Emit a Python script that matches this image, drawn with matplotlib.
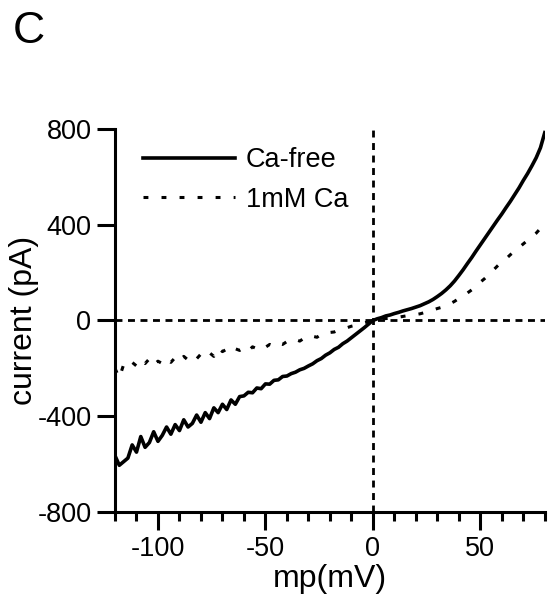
import numpy as np
import matplotlib
matplotlib.use('Agg')
import matplotlib.pyplot as plt

plt.rcParams['font.family'] = ['Liberation Sans', 'DejaVu Sans']
plt.rcParams['axes.unicode_minus'] = False

# membrane potential (mV), 2 mV steps
mp = np.arange(-120, 81, 2)

# Ca-free current (pA)
ca_free = [-565, -605, -590, -575, -520, -550, -485, -530, -510, -465,
           -505, -480, -445, -475, -435, -460, -415, -445, -430, -395,
           -425, -385, -410, -365, -385, -350, -372, -332, -350, -318,
           -315, -300, -302, -282, -285, -265, -266, -250, -248, -234,
           -232, -222, -216, -206, -200, -190, -181, -168, -159, -145,
           -135, -121, -112, -97, -86, -72, -58, -44, -30, -15,
           0, 7, 12, 19, 23, 29, 34, 40, 45, 50,
           56, 62, 70, 78, 88, 100, 113, 128, 145, 165,
           188, 212, 238, 263, 290, 316, 342, 368, 394, 420,
           445, 472, 498, 526, 554, 585, 614, 646, 680, 722,
           785]

# 1mM Ca current (pA)
ca_1mm = [-200, -240, -185, -195, -175, -190, -165, -180, -160, -185,
          -170, -180, -160, -175, -155, -170, -150, -165, -148, -160,
          -140, -152, -135, -150, -115, -130, -120, -133, -118, -125,
          -115, -128, -110, -118, -105, -112, -100, -108, -95, -100,
          -88, -92, -80, -86, -74, -78, -66, -70, -58, -60,
          -50, -48, -40, -36, -30, -24, -20, -14, -10, -5,
          0, 4, 6, 8, 10, 12, 14, 17, 20, 22,
          25, 28, 33, 38, 44, 50, 55, 60, 70, 80,
          92, 102, 115, 128, 145, 160, 175, 192, 210, 228,
          245, 258, 275, 290, 305, 320, 335, 350, 365, 385,
          420]

xticks = [-100, -50, 0, 50]
yticks = [-800, -400, 0, 400, 800]

fig = plt.figure(figsize=(5.51, 6.03), dpi=100)
ax = fig.add_axes([0.2087, 0.151, 0.780, 0.635])

ax.axhline(0, color='black', lw=2.0, ls=(0, (2.5, 2)), zorder=1)
ax.plot([0, 0], [-800, 800], color='black', lw=2.0, ls=(0, (2.5, 2)), zorder=1)

ax.plot(mp, ca_free, color='black', lw=2.6, label='Ca-free')
ax.plot(mp, ca_1mm, color='black', lw=2.2, ls=(0, (1.6, 4.3)), label='1mM Ca')

ax.set_xlim(-120, 80)
ax.set_ylim(-800, 800)
ax.set_xticks(xticks)
ax.set_xticks(np.arange(-120, 81, 10), minor=True)
ax.set_yticks(yticks)

for s in ['top', 'right']:
    ax.spines[s].set_visible(False)
for s in ['left', 'bottom']:
    ax.spines[s].set_linewidth(2.2)

ax.tick_params(axis='both', which='major', length=13, width=2.2, labelsize=19.5, pad=4)
ax.tick_params(axis='x', which='minor', length=6.5, width=2.2)

ax.set_xlabel('mp(mV)', fontsize=23, labelpad=2)
ax.set_ylabel('current (pA)', fontsize=23, labelpad=-1)

ax.legend(loc='upper left', bbox_to_anchor=(0.008, 1.016), frameon=False,
          fontsize=19.5, handlelength=3.4, handletextpad=0.4, labelspacing=0.5)

fig.text(0.024, 0.928, 'C', fontsize=32)

fig.savefig('out.png', dpi=100)
